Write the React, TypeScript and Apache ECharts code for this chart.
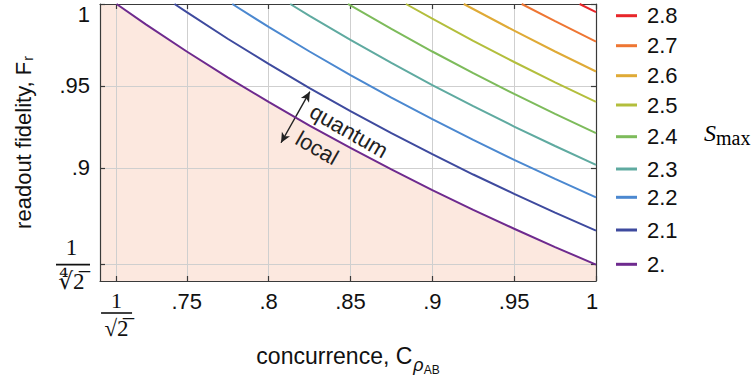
import React, { useEffect, useRef } from 'react';
import * as echarts from 'echarts';

// axis ticks
const xTicks = [0.70711, 0.75, 0.8, 0.85, 0.9, 0.95, 1];
const yTicks = [0.8409, 0.9, 0.95, 1];
const xMin = 0.697;
const yMin = 0.8309;

// contour levels (legend order, top to bottom)
const levelNames = ['2.8', '2.7', '2.6', '2.5', '2.4', '2.3', '2.2', '2.1', '2.'];
const levelColors = ['#E8262A', '#EE7633', '#DFAA36', '#B3BE3C', '#7DBB5B', '#5FAAA0', '#4B88D0', '#3E4A9E', '#6E2A8E'];
const legendRowY = [15.7, 45.7, 75.7, 105, 136.7, 169, 197.3, 230, 264.3];

// contour lines: [concurrence, readout fidelity]
const s28 = [[0.99, 1], [1, 0.995]];
const s27 = [[0.9546, 1], [0.975, 0.9895], [1, 0.977]];
const s26 = [[0.9192, 1], [0.95, 0.9837], [0.975, 0.971], [1, 0.9588]];
const s25 = [[0.8839, 1], [0.9, 0.991], [0.925, 0.9775], [0.95, 0.9646], [0.975, 0.9521], [1, 0.9402]];
const s24 = [[0.8485, 1], [0.85, 0.9991], [0.875, 0.9848], [0.9, 0.971], [0.925, 0.9578], [0.95, 0.9451], [0.975, 0.9329], [1, 0.9212]];
const s23 = [[0.8132, 1], [0.825, 0.9928], [0.85, 0.9781], [0.875, 0.964], [0.9, 0.9505], [0.925, 0.9376], [0.95, 0.9252], [0.975, 0.9133], [1, 0.9018]];
const s22 = [[0.7778, 1], [0.8, 0.986], [0.825, 0.971], [0.85, 0.9566], [0.875, 0.9428], [0.9, 0.9297], [0.925, 0.917], [0.95, 0.9049], [0.975, 0.8932], [1, 0.8819]];
const s21 = [[0.7425, 1], [0.75, 0.995], [0.775, 0.9788], [0.8, 0.9634], [0.825, 0.9487], [0.85, 0.9346], [0.875, 0.9212], [0.9, 0.9083], [0.925, 0.8959], [0.95, 0.8841], [0.975, 0.8726], [1, 0.8617]];
const s20 = [[0.7071, 1], [0.725, 0.9876], [0.75, 0.971], [0.775, 0.9552], [0.8, 0.9402], [0.825, 0.9258], [0.85, 0.9121], [0.875, 0.899], [0.9, 0.8864], [0.925, 0.8743], [0.95, 0.8628], [0.975, 0.8516], [1, 0.8409]];
const contourData = [s28, s27, s26, s25, s24, s23, s22, s21, s20];

// local-region fill (S_max <= 2)
const localRegion = [[xMin, 1], ...s20];

// arrow between the "local" and "quantum" sides
const arrowFrom = [0.8076, 0.9153];
const arrowTo = [0.8252, 0.9465];

const SANS = "'Liberation Sans', Arial, Helvetica, sans-serif";
const SERIF = "'Liberation Serif', 'DejaVu Serif', 'Times New Roman', serif";
const FRAME = '#3a3a3a';
const GRID = '#cfcfcf';
const TICK_FS = 22;

function fmtDec(v: number) {
  if (Math.abs(v - 1) < 1e-9) return '1';
  return String(+v.toFixed(2)).replace(/^0/, '');
}

export default function App() {
  const ref = useRef<HTMLDivElement>(null);
  useEffect(() => {
    if (!ref.current) return;
    const chart = echarts.init(ref.current, undefined, { renderer: 'svg' });
    const xRich = {
      n: { fontFamily: SERIF, fontSize: 22, lineHeight: 21, width: 31, align: 'center', color: '#111' },
      bar: { width: 31, height: 1.6, lineHeight: 4, fontSize: 1, backgroundColor: '#111' },
      d: { fontFamily: SERIF, fontSize: 23, lineHeight: 26, width: 31, align: 'center', color: '#111' },
      rgt: { fontFamily: SANS, fontSize: TICK_FS, color: '#111', padding: [0, 8, 0, 0] },
    };
    const yRich = {
      n: { fontFamily: SERIF, fontSize: 23, lineHeight: 30, width: 31, align: 'center', color: '#111', padding: [0, 3, 0, 0] },
      bar: { width: 31, height: 1.6, lineHeight: 4, fontSize: 1, backgroundColor: '#111', padding: [0, 3, 0, 0] },
      d: { fontFamily: SERIF, fontSize: 23, lineHeight: 30, width: 31, align: 'center', color: '#111', padding: [0, 3, 0, 0] },
      top: { fontFamily: SANS, fontSize: TICK_FS, color: '#111', padding: [21, 0, 0, 0] },
    };
    const contourSeries = contourData.map((d, i) => ({
      type: 'line',
      name: levelNames[i],
      data: d,
      symbol: 'none',
      z: 5,
      lineStyle: { color: levelColors[i], width: 2 },
      itemStyle: { color: levelColors[i] },
      silent: true,
      ...(i === 8
        ? {
            markLine: {
              silent: true,
              symbol: ['arrow', 'arrow'],
              symbolSize: [7, 10],
              label: { show: false },
              lineStyle: { color: '#222', width: 1.4, type: 'solid' },
              data: [[{ coord: arrowFrom }, { coord: arrowTo }]],
            },
          }
        : {}),
    }));
    const option: any = {
      animation: false,
      backgroundColor: '#fff',
      grid: { left: 100, right: 157, top: 4, bottom: 97, outerBoundsMode: 'none' },
      xAxis: [
        {
          type: 'value',
          min: xMin,
          max: 1,
          z: 3,
          name: 'concurrence, C{sub|ρ}{sub2|AB}',
          nameLocation: 'middle',
          nameGap: 61,
          nameTextStyle: {
            fontFamily: SANS, fontSize: 23, color: '#111', lineHeight: 23, verticalAlign: 'top',
            rich: {
              sub: { fontFamily: SANS, fontSize: 18, fontStyle: 'italic', color: '#111', padding: [12, 0, 0, 1], verticalAlign: 'top' },
              sub2: { fontFamily: SANS, fontSize: 12, color: '#111', padding: [20, 0, 0, 0], verticalAlign: 'top' },
            },
          },
          axisLine: { show: true, lineStyle: { color: FRAME, width: 1.2 } },
          axisTick: { show: true, inside: true, length: 5, customValues: xTicks, lineStyle: { color: FRAME, width: 1.2 } },
          axisLabel: {
            show: true,
            customValues: xTicks,
            margin: 9,
            fontFamily: SANS,
            fontSize: TICK_FS,
            color: '#111',
            formatter: (v: number) =>
              Math.abs(v - 0.70711) < 1e-4 ? '{n|1}\n{bar| }\n{d|√2\u0305}' : Math.abs(v - 1) < 1e-9 ? '{rgt|1}' : fmtDec(v),
            rich: xRich,
          },
          splitLine: { show: true, lineStyle: { color: GRID, width: 1 } },
        },
        {
          type: 'value',
          position: 'top',
          min: xMin,
          max: 1,
          z: 3,
          axisLine: { show: true, onZero: false, lineStyle: { color: FRAME, width: 1.2 } },
          axisTick: { show: true, inside: true, length: 5, customValues: xTicks, lineStyle: { color: FRAME, width: 1.2 } },
          axisLabel: { show: false },
          splitLine: { show: false },
        },
      ],
      yAxis: [
        {
          type: 'value',
          min: yMin,
          max: 1,
          z: 3,
          name: 'readout fidelity, F{sub|r}',
          nameLocation: 'middle',
          nameGap: 66,
          nameTextStyle: {
            fontFamily: SANS, fontSize: 22, color: '#111', lineHeight: 22,
            rich: {
              sub: { fontFamily: SANS, fontSize: 14, color: '#111', padding: [10, 0, 0, 1] },
            },
          },
          axisLine: { show: true, onZero: false, lineStyle: { color: FRAME, width: 1.2 } },
          axisTick: { show: true, inside: true, length: 5, customValues: yTicks, lineStyle: { color: FRAME, width: 1.2 } },
          axisLabel: {
            show: true,
            customValues: yTicks,
            margin: 10,
            fontFamily: SANS,
            fontSize: TICK_FS,
            color: '#111',
            formatter: (v: number) =>
              Math.abs(v - 0.8409) < 1e-4 ? '{n|1}\n{bar| }\n{d|∜2\u0305}' : Math.abs(v - 1) < 1e-9 ? '{top|1}' : fmtDec(v),
            rich: yRich,
          },
          splitLine: { show: true, lineStyle: { color: GRID, width: 1 } },
        },
        {
          type: 'value',
          position: 'right',
          min: yMin,
          max: 1,
          z: 3,
          axisLine: { show: true, onZero: false, lineStyle: { color: FRAME, width: 1.2 } },
          axisTick: { show: true, inside: true, length: 5, customValues: yTicks, lineStyle: { color: FRAME, width: 1.2 } },
          axisLabel: { show: false },
          splitLine: { show: false },
        },
      ],
      legend: levelNames.map((name, i) => ({
        data: [name],
        left: 616,
        top: legendRowY[i] - 11,
        orient: 'vertical',
        icon: 'rect',
        itemWidth: 21,
        itemHeight: 3,
        padding: 0,
        selectedMode: false,
        formatter: (n: string) => '{p|' + n + '}',
        textStyle: {
          fontFamily: SANS, fontSize: 22, color: '#111', lineHeight: 22,
          rich: { p: { fontFamily: SANS, fontSize: 22, color: '#111', lineHeight: 22, padding: [0, 0, 0, 5] } },
        },
      })),
      graphic: [
        {
          type: 'text',
          z: 20,
          x: 704,
          y: 133,
          style: {
            text: '{s|S}{m|max}',
            verticalAlign: 'middle',
            rich: {
              s: { fontFamily: SERIF, fontStyle: 'italic', fontSize: 24, color: '#111', lineHeight: 24 },
              m: { fontFamily: SERIF, fontSize: 20, color: '#111', padding: [9, 0, 0, 0] },
            },
          },
        },
        {
          type: 'text',
          z: 20,
          x: 349,
          y: 131,
          rotation: -0.52,
          style: { text: 'quantum', fontFamily: SANS, fontSize: 22, fill: '#222', align: 'center', verticalAlign: 'middle' },
        },
        {
          type: 'text',
          z: 20,
          x: 317,
          y: 148,
          rotation: -0.52,
          style: { text: 'local', fontFamily: SANS, fontSize: 22, fill: '#222', align: 'center', verticalAlign: 'middle' },
        },
      ],
      series: [
        {
          type: 'line',
          name: 'local region',
          data: localRegion,
          symbol: 'none',
          z: 1,
          silent: true,
          lineStyle: { width: 0 },
          areaStyle: { color: '#FCE8DF', opacity: 1, origin: 'start' },
        },
        ...contourSeries,
      ],
    };
    chart.setOption(option);
    return () => chart.dispose();
  }, []);
  return <div ref={ref} style={{ position: 'fixed', left: 0, top: 0, width: 753, height: 378 }} />;
}
